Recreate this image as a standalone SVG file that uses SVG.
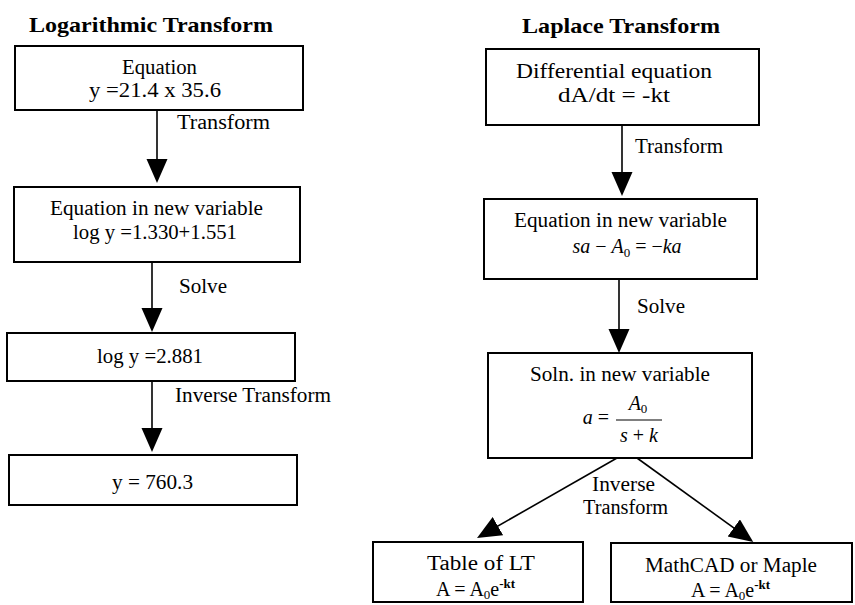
<svg xmlns="http://www.w3.org/2000/svg" width="855" height="605" viewBox="0 0 855 605">
<defs>
<style>
.box{fill:#fff;stroke:#000;stroke-width:2}
.t{font-family:"Liberation Serif","Times New Roman",serif;font-size:20px;fill:#000;text-anchor:middle}
.ti{font-family:"Liberation Serif","Times New Roman",serif;font-size:22px;font-weight:bold;fill:#000;text-anchor:middle}
.i{font-style:italic}
.s{font-size:13px}
.ln{stroke:#000;stroke-width:1.6;fill:none}
</style>
<marker id="ah" markerUnits="userSpaceOnUse" markerWidth="26" markerHeight="22" refX="20" refY="10.5" orient="auto">
<path d="M0,0 L24,10.5 L0,21 z" fill="#000"/>
</marker>
</defs>
<rect width="855" height="605" fill="#fff"/>
<text class="ti" x="151" y="32" textLength="244" lengthAdjust="spacingAndGlyphs">Logarithmic Transform</text>
<text class="ti" x="621" y="33" textLength="198" lengthAdjust="spacingAndGlyphs">Laplace Transform</text>
<g id="connectors">
<line class="ln" x1="157" y1="110" x2="157" y2="179" marker-end="url(#ah)"/>
<line class="ln" x1="152" y1="262" x2="152" y2="328" marker-end="url(#ah)"/>
<line class="ln" x1="152" y1="381" x2="152" y2="448" marker-end="url(#ah)"/>
<line class="ln" x1="622" y1="125" x2="622" y2="192" marker-end="url(#ah)"/>
<line class="ln" x1="619" y1="279" x2="619" y2="349" marker-end="url(#ah)"/>
<line class="ln" x1="617" y1="458" x2="480.5" y2="536" marker-end="url(#ah)"/>
<line class="ln" x1="637" y1="458" x2="750" y2="539.6" marker-end="url(#ah)"/>
<text class="t" x="223.5" y="129" textLength="93" lengthAdjust="spacingAndGlyphs">Transform</text>
<text class="t" x="203" y="293" textLength="48" lengthAdjust="spacingAndGlyphs">Solve</text>
<text class="t" x="253" y="402" textLength="156" lengthAdjust="spacingAndGlyphs">Inverse Transform</text>
<text class="t" x="679" y="153" textLength="88" lengthAdjust="spacingAndGlyphs">Transform</text>
<text class="t" x="661" y="313" textLength="48" lengthAdjust="spacingAndGlyphs">Solve</text>
<text class="t" x="623.5" y="491" textLength="63" lengthAdjust="spacingAndGlyphs">Inverse</text>
<text class="t" x="625.5" y="514" textLength="85" lengthAdjust="spacingAndGlyphs">Transform</text>
</g>
<g id="log-eq">
<rect class="box" x="15" y="46" width="288" height="64"/>
<text class="t" x="159.5" y="74" textLength="75" lengthAdjust="spacingAndGlyphs">Equation</text>
<text class="t" x="155" y="97" textLength="132" lengthAdjust="spacingAndGlyphs">y =21.4 x 35.6</text>
</g>
<g id="log-new">
<rect class="box" x="14" y="187" width="286" height="75"/>
<text class="t" x="156.5" y="215" textLength="213" lengthAdjust="spacingAndGlyphs">Equation in new variable</text>
<text class="t" x="155" y="239" textLength="164" lengthAdjust="spacingAndGlyphs">log y =1.330+1.551</text>
</g>
<g id="log-solved">
<rect class="box" x="7" y="333" width="288" height="48"/>
<text class="t" x="150" y="363" textLength="106" lengthAdjust="spacingAndGlyphs">log y =2.881</text>
</g>
<g id="log-result">
<rect class="box" x="9" y="455" width="288" height="50"/>
<text class="t" x="152.5" y="489" textLength="81" lengthAdjust="spacingAndGlyphs">y = 760.3</text>
</g>
<g id="lap-diff">
<rect class="box" x="486" y="49" width="273" height="76"/>
<text class="t" x="614" y="78" textLength="196" lengthAdjust="spacingAndGlyphs">Differential equation</text>
<text class="t" x="614" y="102" textLength="112" lengthAdjust="spacingAndGlyphs">dA/dt = -kt</text>
</g>
<g id="lap-new">
<rect class="box" x="484" y="199" width="273" height="80"/>
<text class="t" x="620.5" y="227" textLength="213" lengthAdjust="spacingAndGlyphs">Equation in new variable</text>
<text class="t" x="627" y="253"><tspan class="i">sa</tspan> − <tspan class="i">A</tspan><tspan class="s" dy="4">0</tspan><tspan dy="-4"> = −</tspan><tspan class="i">ka</tspan></text>
</g>
<g id="lap-soln">
<rect class="box" x="488" y="353" width="264" height="105"/>
<text class="t" x="620" y="381" textLength="180" lengthAdjust="spacingAndGlyphs">Soln. in new variable</text>
<text class="t" x="596" y="424"><tspan class="i">a</tspan> =</text>
<text class="t" x="638" y="410"><tspan class="i">A</tspan><tspan class="s" dy="3">0</tspan></text>
<line x1="616" y1="420" x2="662" y2="420" stroke="#000" stroke-width="1.2"/>
<text class="t" x="639" y="442"><tspan class="i">s</tspan> + <tspan class="i">k</tspan></text>
</g>
<g id="lap-table">
<rect class="box" x="373" y="542" width="210" height="60"/>
<text class="t" x="481" y="570" textLength="108" lengthAdjust="spacingAndGlyphs">Table of LT</text>
<text class="t" x="475.5" y="596">A = A<tspan class="s" dy="3">0</tspan><tspan dy="-3">e</tspan><tspan class="s" dy="-8" font-weight="bold">-kt</tspan></text>
</g>
<g id="lap-maple">
<rect class="box" x="611" y="543" width="241" height="59"/>
<text class="t" x="731" y="572" textLength="172" lengthAdjust="spacingAndGlyphs">MathCAD or Maple</text>
<text class="t" x="730.5" y="597">A = A<tspan class="s" dy="3">0</tspan><tspan dy="-3">e</tspan><tspan class="s" dy="-8" font-weight="bold">-kt</tspan></text>
</g>
</svg>
